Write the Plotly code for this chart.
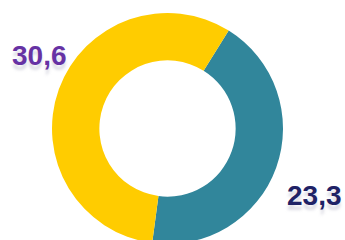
import plotly.graph_objects as go

labels = ["Teal", "Yellow"]
values = [23.3, 30.6]
value_text = ["23,3", "30,6"]
colors = ["#31869B", "#FFCC00"]

W, H = 345, 250
cx, cy, r = 167.5, 128.5, 115.5

fig = go.Figure(go.Pie(
    labels=labels,
    values=values,
    hole=0.59,
    sort=False,
    direction="clockwise",
    rotation=32,
    marker=dict(colors=colors, line=dict(width=0)),
    textinfo="none",
    hoverinfo="skip",
    showlegend=False,
    domain=dict(x=[(cx - r) / W, (cx + r) / W],
                y=[(H - (cy + r)) / H, (H - (cy - r)) / H]),
))

label_pos = [(314, 195, "#1F2266"), (39, 56, "#6632A4")]
for (x, y, c), t in zip(label_pos, value_text):
    fig.add_annotation(
        x=x / W, y=1 - y / H, xref="paper", yref="paper",
        text=t, showarrow=False,
        font=dict(family="Liberation Sans", size=28, color=c,
                  weight="bold", shadow="0px 5px 3px rgba(170,170,190,0.4)"),
        xanchor="center", yanchor="middle",
    )

fig.update_layout(
    width=W, height=H,
    margin=dict(l=0, r=0, t=0, b=0),
    paper_bgcolor="white", plot_bgcolor="white",
)

fig.write_html("out.html", config={"displayModeBar": False},
               post_script="document.body.style.margin='0';document.body.style.overflow='hidden';document.documentElement.style.overflow='hidden';")
